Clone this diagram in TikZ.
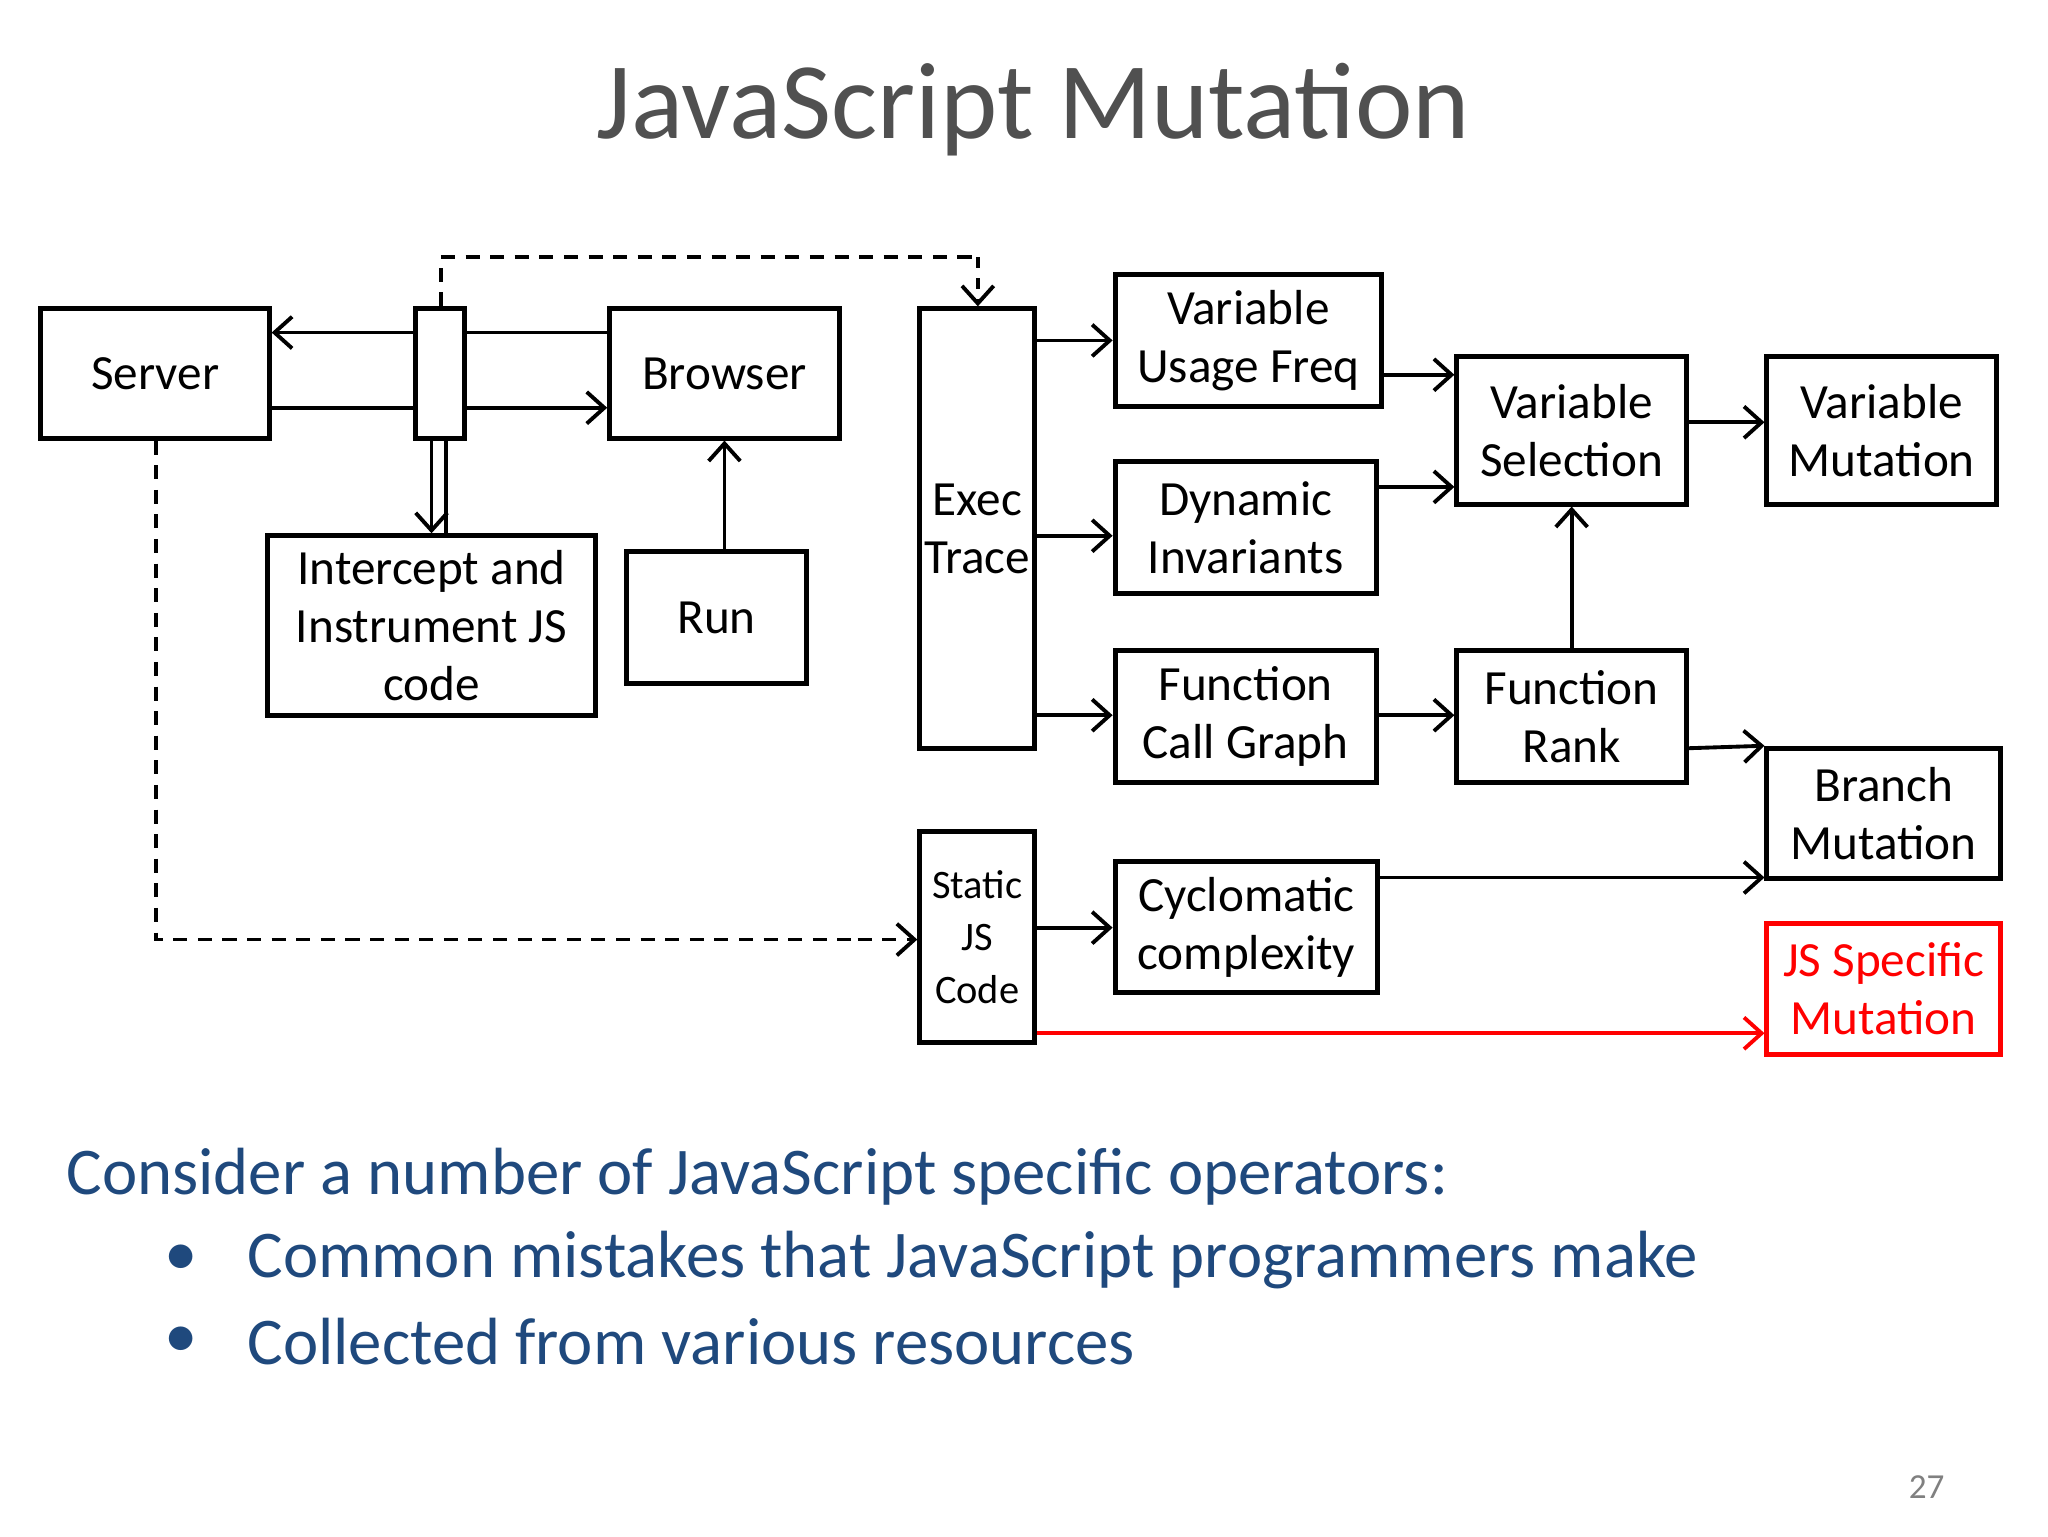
\documentclass[tikz,border=0pt]{standalone}
\usepackage{fontspec}
\setmainfont{Carlito}
\usetikzlibrary{arrows.meta}
\definecolor{tblue}{RGB}{31,73,125}
\definecolor{tgray}{RGB}{80,80,80}
\newcommand\Bx[7][]{\node[box,#1,minimum width={(#5-#3)*0.0132cm},minimum height={(#6-#4)*0.0132cm}] (#2) at ({(#3+#5)/2},{(#4+#6)/2}) {#7};}
\tikzset{
 box/.style={draw,line width=1.4pt,inner sep=0pt,align=center,font=\fontsize{14}{16.5}\selectfont},
 arr/.style={line width=1.1pt,-{Straight Barb[length=5pt,width=9pt]}},
 ln/.style={line width=1.1pt},
 dsh/.style={line width=1.1pt,dash pattern=on 4pt off 3pt}
}
\begin{document}
\begin{tikzpicture}[x=0.0132cm,y=-0.0132cm]
\useasboundingbox (0,0) rectangle (1552,1164);
\node[text=tgray,font=\fontsize{31}{36}\selectfont] (title) at (783,83) {JavaScript Mutation};
\Bx{server}{31}{234}{204}{332}{Server}
\Bx{icp}{315}{234}{352}{332}{}
\Bx{browser}{462}{234}{636}{332}{Browser}
\Bx{inst}{203}{406}{451}{542}{Intercept and\\Instrument JS\\code}
\Bx{run}{475}{418}{611}{518}{Run}
\Bx{exec}{697}{234}{784}{567}{Exec\\Trace}
\Bx{vuf}{845}{208}{1047}{308}{Variable\\Usage Freq}
\Bx{dyn}{845}{350}{1043}{450}{Dynamic\\Invariants}
\Bx{fcg}{845}{493}{1043}{593}{Function\\Call Graph}
\Bx{vsel}{1104}{270}{1278}{382}{Variable\\Selection}
\Bx{frank}{1104}{493}{1278}{593}{Function\\Rank}
\Bx{vmut}{1339}{270}{1513}{382}{Variable\\Mutation}
\Bx{bmut}{1339}{567}{1516}{666}{Branch\\Mutation}
\Bx[font=\fontsize{11.5}{15}\selectfont]{sjs}{697}{630}{784}{790}{Static\\JS\\Code}
\Bx{cyc}{845}{653}{1044}{752}{Cyclomatic\\complexity}
\Bx[draw=red,text=red]{jsm}{1339}{700}{1516}{799}{JS Specific\\Mutation}
% server / browser
\draw[arr] (icp.west|-0,252) -- (server.east|-0,252);
\draw[ln] (browser.west|-0,252) -- (icp.east|-0,252);
\draw[ln] (server.east|-0,309) -- (icp.west|-0,309);
\draw[arr] (icp.east|-0,309) -- (browser.west|-0,309);
\draw[arr] (icp.south-|327,0) -- (inst.north-|327,0);
\draw[ln] (icp.south-|338,0) -- (inst.north-|338,0);
\draw[arr] (run.north-|549,0) -- (browser.south-|549,0);
\draw[dsh] (icp.north-|334,0) -- (334,195) -- (741,195);
\draw[arr,dashed,line width=1.1pt] (741,195) -- (exec.north-|741,0);
\draw[dsh] (server.south-|118,0) -- (118,712) -- (650,712);
\draw[arr,dash pattern=on 4pt off 3pt] (650,712) -- (sjs.west|-0,712);
% exec
\draw[arr] (exec.east|-0,258) -- (vuf.west|-0,258);
\draw[arr] (exec.east|-0,406) -- (dyn.west|-0,406);
\draw[arr] (exec.east|-0,542) -- (fcg.west|-0,542);
\draw[arr] (vuf.east|-0,284) -- (vsel.west|-0,284);
\draw[arr] (dyn.east|-0,369) -- (vsel.west|-0,369);
\draw[arr] (fcg.east|-0,542) -- (frank.west|-0,542);
\draw[arr] (frank.north-|1191,0) -- (vsel.south-|1191,0);
\draw[arr] (vsel.east|-0,320) -- (vmut.west|-0,320);
\draw[arr] (frank.east|-0,567) -- (bmut.north west);
\draw[arr] (cyc.east|-0,665) -- (bmut.west|-0,665);
\draw[arr] (sjs.east|-0,703) -- (cyc.west|-0,703);
\draw[arr,red] (sjs.east|-0,783) -- (jsm.west|-0,783);
% text
\node[anchor=west,text=tblue,font=\fontsize{19}{22}\selectfont,inner sep=0pt] (t1) at (50,892) {Consider a number of JavaScript specific operators:};
\node[text=tblue,font=\fontsize{19}{22}\selectfont,inner sep=0pt] (b1) at (137,955) {•};
\node[anchor=west,text=tblue,font=\fontsize{19}{22}\selectfont,inner sep=0pt] (t2) at (187,955) {Common mistakes that JavaScript programmers make};
\node[text=tblue,font=\fontsize{19}{22}\selectfont,inner sep=0pt] (b2) at (137,1017) {•};
\node[anchor=west,text=tblue,font=\fontsize{19}{22}\selectfont,inner sep=0pt] (t3) at (187,1017) {Collected from various resources};
\node[text=gray,font=\fontsize{10}{12}\selectfont] (pg) at (1460,1127) {27};
\end{tikzpicture}
\end{document}
